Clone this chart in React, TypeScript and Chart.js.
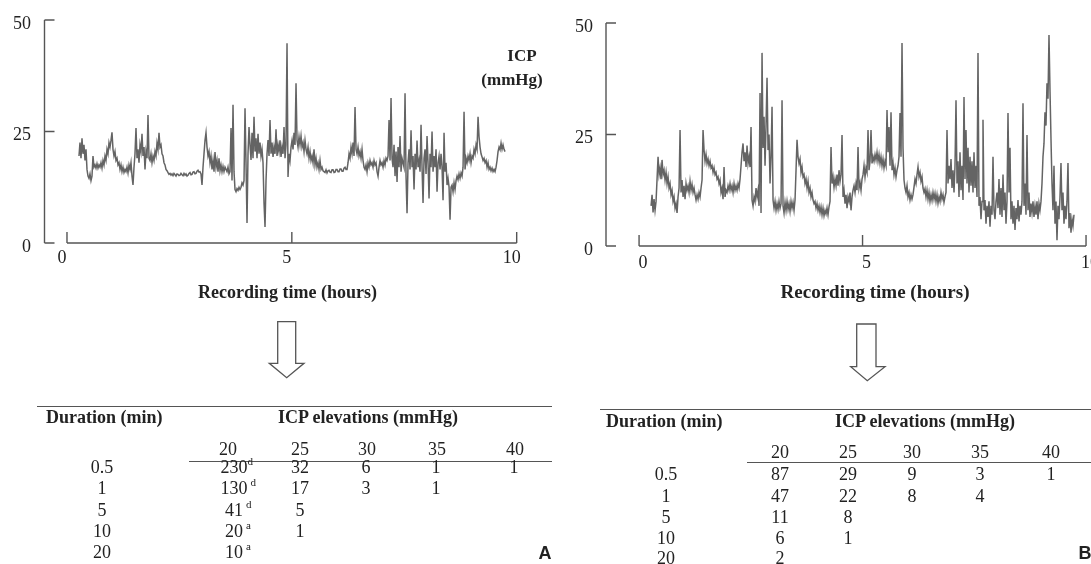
import React, { useEffect, useRef } from 'react';
import { Chart, registerables } from 'chart.js';

Chart.register(...registerables);

// ---------------- data ----------------
const LEFT_T0 = 0.267;
const LEFT_DT = 0.02224;
const LEFT_ICP = [
  19.5, 22.5, 19, 23.5, 20, 22, 18.5, 21, 16.5, 15,
  14.5, 15.5, 14, 15, 19.5, 17, 17.5, 16.8, 17.8, 16.8,
  17.5, 17, 18, 16.8, 18.5, 17.5, 19.5, 18.5, 21, 20,
  22.5, 21.5, 23, 24.8, 21, 19.5, 20.5, 18.5, 19, 17.5,
  18, 16.5, 17.5, 16, 17, 15.8, 16.5, 16, 17, 15.7,
  17.5, 16.5, 18, 15, 13, 17, 20, 25.8, 19, 21,
  18, 22, 20.5, 24.5, 19.5, 21.5, 16.5, 20.5, 19, 28.7,
  19, 18.5, 20, 18, 19.5, 18.5, 20.5, 19.5, 22.4, 21,
  24.7, 21.5, 22, 20, 19.5, 18, 17.5, 16.5, 16.2, 15.8,
  15.4, 15.6, 15.2, 15.5, 15.1, 15.6, 15.3, 15, 15.5, 15.4,
  15.1, 15.2, 15.6, 15.3, 15.1, 15.6, 15.2, 15.5, 15, 15.2,
  15.6, 15.8, 15.3, 15.4, 15.9, 16, 15.5, 15.6, 16.1, 16.3,
  15.9, 16, 15.5, 13, 17, 20, 23, 24.7, 21.5, 19.5,
  20.5, 18, 19.5, 16.5, 18.5, 16, 20.4, 17, 18.5, 16,
  19, 16.2, 17.5, 16, 17.2, 16, 17, 16.5, 16, 17,
  15.5, 16, 25.8, 14, 31, 16, 12, 11.5, 12.2, 11.8,
  12.5, 12, 12.5, 13.5, 13, 14, 30.2, 18, 4.5, 20,
  26, 22, 18.6, 24.7, 19, 28.3, 20.5, 23.5, 19, 24.5,
  20, 22.5, 19.5, 21, 18, 9, 3.6, 14, 20, 23.1,
  19.5, 27.6, 20, 22.5, 19.3, 21.5, 20, 25.5, 19.5, 22,
  20.5, 23, 19.3, 21.5, 20, 26, 19, 22, 44.8, 14.8,
  20, 18.5, 21.5, 23, 21, 24.7, 22, 35.8, 23, 21.5,
  23.8, 22, 24, 21.5, 22.5, 20.5, 23, 21, 20, 21.5,
  19, 20.5, 18.5, 19.5, 18, 21, 17.5, 19, 17, 18,
  16.5, 18.5, 16.5, 17, 16.2, 16, 15.8, 16.4, 15.7, 16.2,
  16.3, 15.9, 15.8, 16.4, 16.4, 15.8, 15.9, 16.5, 16.5, 16,
  16, 16.6, 16.6, 16.1, 16.1, 16.8, 17, 16.5, 16.5, 18,
  20, 19, 21.5, 20, 22.5, 19.5, 30.5, 21, 20, 21.5,
  19.5, 20.5, 19, 21, 18.5, 17, 16.5, 17.5, 16, 18,
  17, 18.5, 17.5, 18, 17, 18.5, 17.5, 18, 16, 15,
  17, 18.5, 17.5, 18, 17, 18.5, 17.5, 19, 18.5, 19.5,
  27.6, 18.5, 32.5, 19, 17, 22, 15, 20.5, 13.7, 21.5,
  17, 24, 16, 19, 18, 17, 33.6, 15, 6.7, 18,
  21, 16.5, 25.3, 17, 19.5, 12, 20, 16.5, 23, 17,
  18.5, 16, 26.5, 17, 9, 19, 21, 15.5, 24, 18,
  10, 20, 17, 25, 16, 19.5, 17, 21, 11.5, 18,
  19.5, 16.5, 20, 17, 9.6, 24.7, 16, 18, 13, 14.5,
  12.6, 5.2, 12.5, 13, 11.5, 13.5, 12, 14, 15, 14.2,
  15.5, 14.5, 15.7, 15, 17, 29.4, 16.5, 19, 18, 19.5,
  18.5, 20, 18, 19.5, 19, 21, 20, 22, 21, 28.3,
  23.8, 21.5, 20, 19.3, 18.5, 19, 18, 18.5, 17, 18,
  16.5, 17, 16.2, 16.8, 16, 16.5, 16, 17, 18.5, 20.5,
  21.5, 20.9, 22.4, 21, 22, 21, 20.5,
];

const RIGHT_T0 = 0.268;
const RIGHT_DT = 0.02237;
const RIGHT_ICP = [
  9, 11.5, 7.5, 10.5, 8, 10, 15, 20, 16, 17.5,
  15, 19.3, 16, 17, 14.8, 16.5, 14, 15.5, 13, 14,
  11.5, 12.5, 10, 11, 8.5, 9.5, 7.4, 11, 13, 26,
  12, 14.8, 11, 13.5, 10.5, 14, 12.5, 13.5, 12, 14.5,
  12.5, 13.8, 12, 13, 11.5, 10.3, 11.5, 10.5, 12, 11,
  13, 14.8, 26, 21.5, 19, 20.5, 18.5, 19.5, 18, 19,
  17.5, 18, 16.5, 17.5, 16, 16.5, 15, 15.5, 14, 14.8,
  12, 13, 10.5, 17.7, 11, 12.5, 12, 13.5, 12.5, 14,
  12.5, 13.5, 12, 14, 12.5, 13.5, 12.5, 14, 13, 15,
  18, 21, 23, 19, 21, 17.7, 22.5, 18.5, 20, 17.7,
  26.7, 10.3, 9, 11, 10, 13, 11, 12.5, 9, 34.3,
  7.4, 43.3, 22, 29, 18, 27, 37.7, 21.5, 25, 14,
  20, 31.2, 10.3, 8.5, 10, 8, 9.5, 8.2, 10, 8.5,
  9.5, 32.7, 9, 7.4, 9.8, 8, 10, 8.2, 9.5, 7.8,
  10, 8.5, 9.8, 8, 10.3, 17, 23.8, 20, 18.5, 19.5,
  16.5, 17.7, 15.5, 16, 14, 15, 13, 14.5, 12, 13,
  11, 12, 10.3, 9.5, 10, 8.5, 9.5, 8, 9, 7.5,
  8.8, 7, 8.5, 6.8, 8, 7.2, 8.5, 7, 8.8, 10,
  22.2, 14, 15.5, 13.2, 15, 13.5, 16, 13.5, 17, 14.5,
  16, 24.9, 11, 12.5, 9.5, 11.5, 8.5, 11, 10, 12,
  8, 11, 12.5, 13.5, 12, 14, 12.5, 22.2, 13, 14.2,
  12.5, 15, 16, 18, 15.5, 17.5, 16.5, 26, 17, 19,
  26, 18.5, 20, 19, 20.5, 19.3, 21, 19, 20.5, 18.5,
  20, 18, 19.5, 17.5, 19, 18, 30.5, 21, 26.7, 18,
  30, 17, 18.6, 16, 17.5, 15.5, 17, 18, 20, 29.8,
  20, 45.5, 22, 14.8, 13, 12, 13.5, 11, 12, 10.3,
  11.5, 10.5, 11.5, 13.2, 15, 14, 16, 17.7, 15.5, 16.5,
  14.5, 15.5, 13, 12, 12.8, 11, 12.5, 10.5, 12, 10,
  11.5, 10.2, 12, 10.5, 11.8, 10, 11.5, 9.6, 11, 10,
  12, 10.5, 11.5, 9.8, 11, 12, 26, 14, 18, 15,
  19.5, 13, 17, 12, 18, 32.7, 14, 19, 11, 21,
  12.5, 18, 10.3, 33.4, 15, 26, 14, 22, 12, 20,
  13.5, 19, 12, 21, 13, 18, 11, 43.3, 9, 11,
  6, 10, 28.3, 8, 10.3, 5, 9, 6.5, 10, 4.3,
  9, 7, 20, 8, 6, 10, 12, 8.5, 15, 7,
  13, 6.5, 16, 8, 12, 5, 10, 29.8, 12, 22,
  6, 10, 5, 9, 3.6, 8.5, 6, 10.3, 5.5, 9,
  7, 10, 32, 9, 14, 7, 24.9, 8, 12, 6.5,
  9.5, 7.5, 10, 6.5, 9, 7, 10, 6, 9.5, 8,
  10, 14, 20, 23, 30, 27, 36.5, 33, 47.3, 35,
  24, 14, 8, 18, 5, 10, 1.3, 9, 6, 11,
  18.6, 8, 12, 5, 9, 6, 10, 18.6, 4, 7.4,
  3, 6, 4.5, 7,
];

const Y_TICKS = [0, 25, 50];
const X_TICKS = [0, 5, 10];
const X_TITLE = 'Recording time (hours)';
const UNIT_LINES = ['ICP', '(mmHg)'];

// tables
const TABLE_ROW_HEAD = 'Duration (min)';
const TABLE_COL_HEAD = 'ICP elevations (mmHg)';
const DURATIONS = ['0.5', '1', '5', '10', '20'];
const ELEVATIONS = ['20', '25', '30', '35', '40'];
const COUNTS_A = [
  ['230', '32', '6', '1', '1'],
  ['130', '17', '3', '1', ''],
  ['41', '5', '', '', ''],
  ['20', '1', '', '', ''],
  ['10', '', '', '', ''],
];
const SUP_A = ['d', 'd', 'd', 'a', 'a'];
const SUP_GAP_A = [0, 3, 3, 3, 3];
const COUNTS_B = [
  ['87', '29', '9', '3', '1'],
  ['47', '22', '8', '4', ''],
  ['11', '8', '', '', ''],
  ['6', '1', '', '', ''],
  ['2', '', '', '', ''],
];
const SUP_B = ['', '', '', '', ''];
const SUP_GAP_B = [0, 0, 0, 0, 0];

// ---------------- styling ----------------
const SERIF = '"Liberation Serif", "Times New Roman", serif';
const SANS = '"Liberation Sans", Arial, sans-serif';
const TEXT = '#222';
const AXIS = '#555';
const TRACE = 'rgba(40,40,40,0.72)';
const CANVAS_H = 312;

type AxesCfg = {
  yTickLen: number;
  xTickLen: number;
  yLabelRight: number;
  yLabelDy: number;
  xLabelDx: number;
  xLabelY: number;
  tickFont: number;
  titleFont: number;
  titleX: number;
  titleY: number;
  unit?: { x: number; y: number }[];
};

function makeAxesPlugin(cfg: AxesCfg) {
  return {
    id: 'paperAxes',
    afterDatasetsDraw(chart: any) {
      const { ctx } = chart;
      const xs = chart.scales.x;
      const ys = chart.scales.y;
      const ax = chart.chartArea.left;
      ctx.save();
      ctx.strokeStyle = AXIS;
      ctx.lineWidth = 1.4;
      ctx.beginPath();
      // y axis with ticks to the right
      ctx.moveTo(ax, ys.getPixelForValue(Y_TICKS[0]));
      ctx.lineTo(ax, ys.getPixelForValue(Y_TICKS[Y_TICKS.length - 1]));
      Y_TICKS.forEach((v) => {
        const py = ys.getPixelForValue(v);
        ctx.moveTo(ax, py);
        ctx.lineTo(ax + cfg.yTickLen, py);
      });
      // x axis, detached from y axis, ticks pointing up
      const py0 = ys.getPixelForValue(0);
      ctx.moveTo(xs.getPixelForValue(X_TICKS[0]), py0);
      ctx.lineTo(xs.getPixelForValue(X_TICKS[X_TICKS.length - 1]), py0);
      X_TICKS.forEach((v) => {
        const px = xs.getPixelForValue(v);
        ctx.moveTo(px, py0);
        ctx.lineTo(px, py0 - cfg.xTickLen);
      });
      ctx.stroke();

      ctx.fillStyle = TEXT;
      ctx.textBaseline = 'middle';
      ctx.font = `${cfg.tickFont}px ${SERIF}`;
      ctx.textAlign = 'right';
      Y_TICKS.forEach((v) => ctx.fillText(String(v), cfg.yLabelRight, ys.getPixelForValue(v) + cfg.yLabelDy));
      ctx.textAlign = 'center';
      X_TICKS.forEach((v) => ctx.fillText(String(v), xs.getPixelForValue(v) + cfg.xLabelDx, cfg.xLabelY));

      ctx.font = `bold ${cfg.titleFont}px ${SERIF}`;
      ctx.fillText(X_TITLE, cfg.titleX, cfg.titleY);
      if (cfg.unit) {
        ctx.font = `bold 17px ${SERIF}`;
        UNIT_LINES.forEach((s, i) => ctx.fillText(s, cfg.unit![i].x, cfg.unit![i].y));
      }
      ctx.restore();
    },
  };
}

type TraceProps = {
  t0: number;
  dt: number;
  values: number[];
  left: number;
  width: number;
  xMin: number;
  xMax: number;
  padding: { left: number; right: number; top: number; bottom: number };
  axes: AxesCfg;
};

function Trace(p: TraceProps) {
  const ref = useRef<HTMLCanvasElement>(null);
  useEffect(() => {
    const data = p.values.map((v, i) => ({ x: p.t0 + i * p.dt, y: v }));
    const chart = new Chart(ref.current as HTMLCanvasElement, {
      type: 'line',
      data: {
        datasets: [
          {
            data,
            borderColor: TRACE,
            borderWidth: 1.5,
            pointRadius: 0,
            tension: 0,
            fill: false,
          },
        ],
      },
      options: {
        animation: false,
        responsive: false,
        devicePixelRatio: 1,
        layout: { padding: p.padding },
        scales: {
          x: { type: 'linear', min: p.xMin, max: p.xMax, display: false },
          y: { type: 'linear', min: 0, max: 50, display: false },
        },
        plugins: { legend: { display: false }, tooltip: { enabled: false } },
      },
      plugins: [makeAxesPlugin(p.axes)],
    } as any);
    return () => chart.destroy();
  }, []);
  return (
    <canvas
      ref={ref}
      width={p.width}
      height={CANVAS_H}
      style={{ position: 'absolute', left: p.left, top: 0, width: p.width, height: CANVAS_H }}
    />
  );
}

function At({ x, y, children, style }: { x: number; y: number; children: any; style?: any }) {
  return (
    <div
      style={{
        position: 'absolute',
        left: x,
        top: y,
        transform: 'translate(-50%, -50%)',
        whiteSpace: 'nowrap',
        lineHeight: '18px',
        fontSize: 18,
        ...style,
      }}
    >
      {children}
    </div>
  );
}

type TableLayout = {
  topRule: { y: number; x1: number; x2: number };
  headRule: { y: number; x1: number; x2: number };
  titleY: number;
  durTitleX: number;
  icpTitleX: number;
  colX: number[];
  valX: number[];
  headerY: number;
  rowY: number[];
  durX: number;
  letter: string;
  letterX: number;
  letterY: number;
};

function Table({ L, counts, sups, gaps }: { L: TableLayout; counts: string[][]; sups: string[]; gaps: number[] }) {
  const rule = (r: { y: number; x1: number; x2: number }, key: string) => (
    <div key={key} style={{ position: 'absolute', left: r.x1, top: r.y - 0.5, width: r.x2 - r.x1, height: 1.3, background: AXIS }} />
  );
  return (
    <>
      {rule(L.topRule, 'top')}
      {rule(L.headRule, 'head')}
      <div style={{ position: 'absolute', left: L.durTitleX, top: L.titleY - 10, fontWeight: 'bold', fontSize: 18, lineHeight: '20px', whiteSpace: 'nowrap' }}>
        {TABLE_ROW_HEAD}
      </div>
      <div style={{ position: 'absolute', left: L.icpTitleX, top: L.titleY - 10, fontWeight: 'bold', fontSize: 18, lineHeight: '20px', whiteSpace: 'nowrap' }}>
        {TABLE_COL_HEAD}
      </div>
      {ELEVATIONS.map((e, j) => (
        <At key={'h' + j} x={L.colX[j]} y={L.headerY}>
          {e}
        </At>
      ))}
      {DURATIONS.map((d, i) => (
        <At key={'d' + i} x={L.durX} y={L.rowY[i]}>
          {d}
        </At>
      ))}
      {counts.map((row, i) =>
        row.map((c, j) =>
          c ? (
            <At key={'c' + i + '-' + j} x={L.valX[j]} y={L.rowY[i]}>
              <span style={{ position: 'relative' }}>
                {c}
                {j === 0 && sups[i] ? (
                  <span style={{ position: 'absolute', left: '100%', top: -5, marginLeft: gaps[i], fontSize: 11 }}>{sups[i]}</span>
                ) : null}
              </span>
            </At>
          ) : null,
        ),
      )}
      <At x={L.letterX} y={L.letterY} style={{ fontFamily: SANS, fontWeight: 'bold', fontSize: 18 }}>
        {L.letter}
      </At>
    </>
  );
}

function Arrow({ sl, sr, top, sb, hl, hr, tx, ty }: { sl: number; sr: number; top: number; sb: number; hl: number; hr: number; tx: number; ty: number }) {
  const d = `M${sl},${top} L${sr},${top} L${sr},${sb} L${hr},${sb} L${tx},${ty} L${hl},${sb} L${sl},${sb} Z`;
  return <path d={d} fill="#fff" stroke={AXIS} strokeWidth={1.3} strokeLinejoin="miter" />;
}

const LEFT_TABLE: TableLayout = {
  topRule: { y: 406, x1: 37, x2: 552 },
  headRule: { y: 461, x1: 189, x2: 552 },
  titleY: 417,
  durTitleX: 46,
  icpTitleX: 278,
  colX: [228, 300, 367, 437, 515],
  valX: [234, 300, 366, 436, 514],
  headerY: 449,
  rowY: [466.5, 488, 509.5, 530.5, 552],
  durX: 102,
  letter: 'A',
  letterX: 545,
  letterY: 553,
};

const RIGHT_TABLE: TableLayout = {
  topRule: { y: 409, x1: 600, x2: 1091 },
  headRule: { y: 462.7, x1: 747, x2: 1091 },
  titleY: 420.7,
  durTitleX: 606,
  icpTitleX: 835,
  colX: [780, 848, 912, 980, 1051],
  valX: [780, 848, 912, 980, 1051],
  headerY: 451.7,
  rowY: [474, 495.7, 516.7, 538, 558],
  durX: 666,
  letter: 'B',
  letterX: 1085,
  letterY: 553,
};

export default function App() {
  return (
    <div
      style={{
        position: 'fixed',
        left: 0,
        top: 0,
        width: 1091,
        height: 564,
        background: '#fff',
        overflow: 'hidden',
        fontFamily: SERIF,
        color: TEXT,
      }}
    >
      <Trace
        t0={LEFT_T0}
        dt={LEFT_DT}
        values={LEFT_ICP}
        left={0}
        width={545}
        xMin={-0.5}
        xMax={10.5}
        padding={{ left: 44.5, right: 5.83, top: 20, bottom: CANVAS_H - 243 }}
        axes={{
          yTickLen: 10,
          xTickLen: 11,
          yLabelRight: 31,
          yLabelDy: 4,
          xLabelDx: -5,
          xLabelY: 258,
          tickFont: 18,
          titleFont: 18,
          titleX: 287.5,
          titleY: 293,
          unit: [
            { x: 522, y: 57 },
            { x: 512, y: 81 },
          ],
        }}
      />
      <Trace
        t0={RIGHT_T0}
        dt={RIGHT_DT}
        values={RIGHT_ICP}
        left={545}
        width={546}
        xMin={-0.74}
        xMax={10.1}
        padding={{ left: 61, right: 0.5, top: 23, bottom: CANVAS_H - 246 }}
        axes={{
          yTickLen: 10,
          xTickLen: 11,
          yLabelRight: 48,
          yLabelDy: 4,
          xLabelDx: 4,
          xLabelY: 263,
          tickFont: 18,
          titleFont: 19,
          titleX: 330,
          titleY: 293,
        }}
      />
      <svg width={1091} height={564} style={{ position: 'absolute', left: 0, top: 0, pointerEvents: 'none' }}>
        <Arrow sl={277.7} sr={295.7} top={321.7} sb={363.3} hl={269.3} hr={304} tx={286.7} ty={377.7} />
        <Arrow sl={856.7} sr={876} top={324} sb={366.7} hl={850.7} hr={885} tx={867.3} ty={380.7} />
      </svg>
      <Table L={LEFT_TABLE} counts={COUNTS_A} sups={SUP_A} gaps={SUP_GAP_A} />
      <Table L={RIGHT_TABLE} counts={COUNTS_B} sups={SUP_B} gaps={SUP_GAP_B} />
    </div>
  );
}
